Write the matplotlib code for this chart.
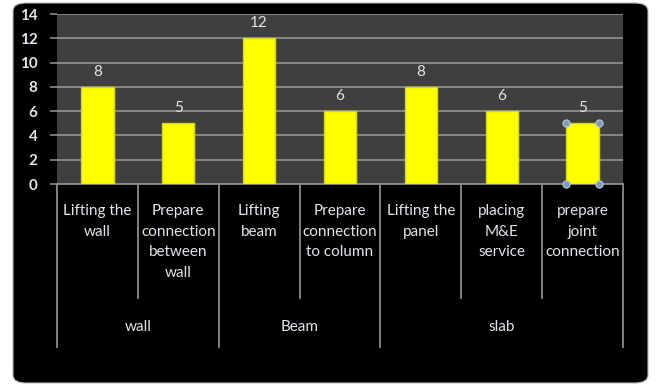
import matplotlib
matplotlib.use('Agg')
import matplotlib.pyplot as plt
from matplotlib.patches import FancyBboxPatch
import numpy as np

plt.rcParams['font.family'] = ['Lato', 'DejaVu Sans']

# task data
tasks = ["Lifting the\nwall", "Prepare\nconnection\nbetween\nwall", "Lifting\nbeam",
         "Prepare\nconnection\nto column", "Lifting the\npanel", "placing\nM&E\nservice",
         "prepare\njoint\nconnection"]
values = [8, 5, 12, 6, 8, 6, 5]
groups = ["wall", "Beam", "slab"]
group_sizes = [2, 2, 3]
yticks = [0, 2, 4, 6, 8, 10, 12, 14]

W, H = 656, 389
fig = plt.figure(figsize=(W / 100, H / 100), dpi=100)
fig.patch.set_facecolor('white')

# black chart area with rounded corners
bg = FancyBboxPatch((13 / W, 6 / H), 635 / W, 380 / H,
                    boxstyle="round,pad=0,rounding_size=0.02",
                    transform=fig.transFigure, facecolor='black',
                    edgecolor='#b8b8b8', linewidth=0.8, zorder=-5)
fig.patches.append(bg)

left, right, top, bottom = 57, 623, 14, 184
ax = fig.add_axes([left / W, 1 - bottom / H, (right - left) / W, (bottom - top) / H])
ax.set_zorder(2)
ax.set_facecolor('#3f3f3f')

txt_col = '#e2e3ec'
x = np.arange(len(values))
bars = ax.bar(x, values, width=0.4, color='#ffff00', edgecolor='#d8d800',
              linewidth=1.0, zorder=3)
for xi, v in zip(x, values):
    ax.annotate(str(v), (xi, v), xytext=(0, 6), textcoords='offset points',
                ha='center', va='bottom', color=txt_col, fontsize=11)

ax.set_xlim(-0.5, len(values) - 0.5)
ax.set_ylim(0, 14)
ax.set_yticks(yticks)
ax.yaxis.grid(True, color='#8c8c8c', linewidth=1.3)
ax.set_axisbelow(True)
ax.tick_params(axis='y', colors='#8c8c8c', labelcolor=txt_col, labelsize=11,
               length=5, width=1.2, pad=9)
for lab in ax.get_yticklabels():
    lab.set_fontweight('bold')
ax.tick_params(axis='x', bottom=False, labelbottom=False)
for s in ['top', 'right', 'left']:
    ax.spines[s].set_visible(False)
ax.spines['bottom'].set_color('#8c8c8c')
ax.spines['bottom'].set_linewidth(1.3)

# selection handles on last bar
last = bars[-1]
bx0 = last.get_x()
bx1 = bx0 + last.get_width()
ax.plot([bx0, bx1, bx0, bx1], [0, 0, values[-1], values[-1]], 'o', ms=5,
        color='#7f9ab5', mec='#a9bfd6', clip_on=False, zorder=5)

# category / group separators below the axis
tr = ax.get_xaxis_transform()
inner_y = -(298 - bottom) / (bottom - top)
outer_y = -(347 - bottom) / (bottom - top)
bounds = np.concatenate([[0], np.cumsum(group_sizes)])
for b in range(len(values) + 1):
    ylow = outer_y if b in bounds else inner_y
    ax.plot([b - 0.5, b - 0.5], [0, ylow], color='#8c8c8c', lw=1.3,
            transform=tr, clip_on=False)

for xi, t in zip(x, tasks):
    ax.text(xi, -(204 - bottom) / (bottom - top), t, transform=tr, ha='center',
            va='top', color=txt_col, fontsize=11, linespacing=1.6)

for g, a, b in zip(groups, bounds[:-1], bounds[1:]):
    ax.text((a + b - 1) / 2, -(327 - bottom) / (bottom - top), g, transform=tr,
            ha='center', va='center', color=txt_col, fontsize=11)

fig.savefig('out.png', dpi=100, facecolor='white')
